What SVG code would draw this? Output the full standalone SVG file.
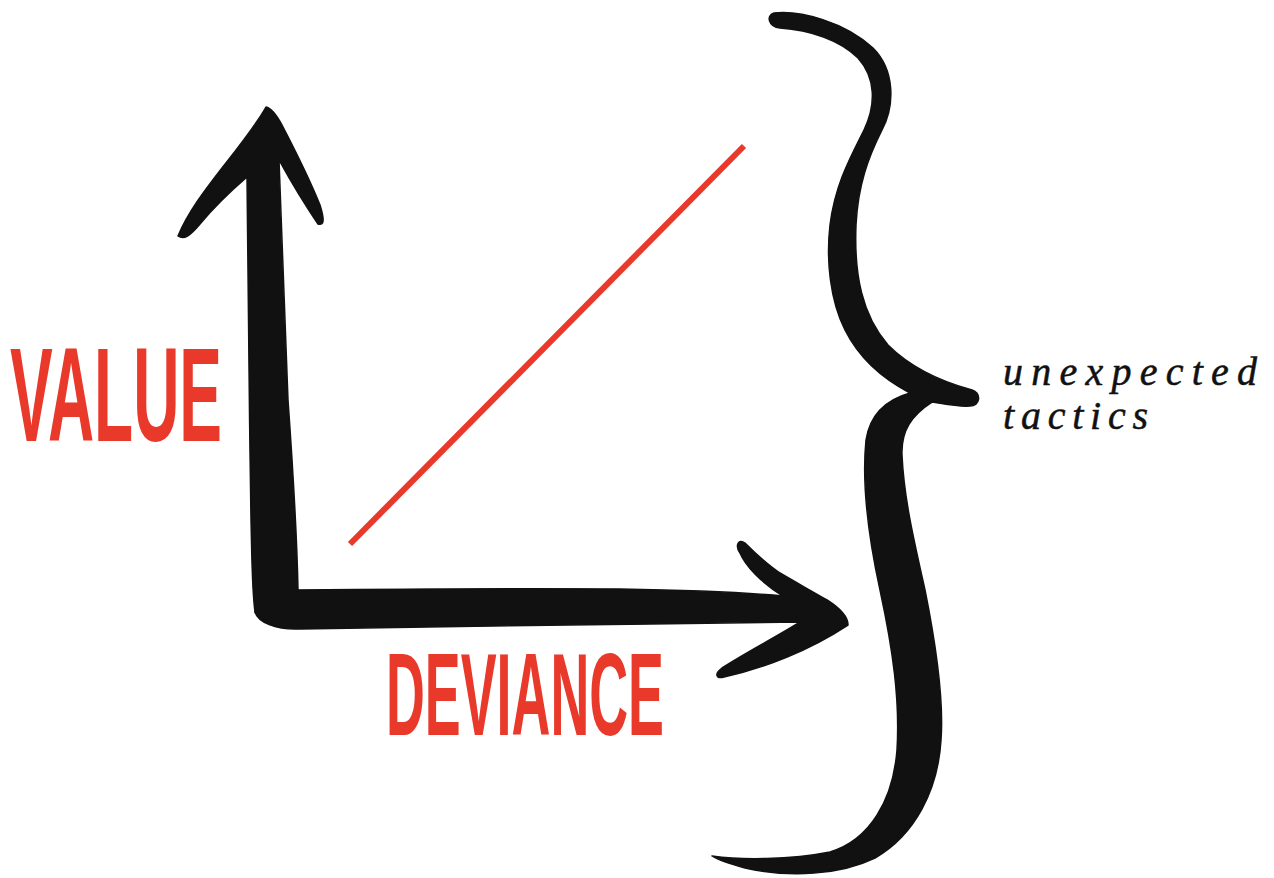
<svg xmlns="http://www.w3.org/2000/svg" width="1274" height="878" viewBox="0 0 1274 878">
<style>
.ink{fill:#111;stroke:#111;stroke-width:1.5;stroke-linejoin:round}
.red{font-family:"Liberation Sans",Arial,sans-serif;font-weight:bold;fill:#e8392a}
.it{font-family:"Liberation Serif","Times New Roman",serif;font-style:italic;font-size:40px;fill:#111;stroke:#111;stroke-width:0.5}
</style>
<rect width="1274" height="878" fill="#fff"/>
<g id="connectors">
<path id="value-axis" class="ink" d="M266,107 C256,125 240,145 222,168 C205,190 188,212 178,236 C184,240 190,236 200,224 C215,206 232,190 247,177 C248,260 249,400 251,520 C252,560 252,590 255,612 C265,622 285,618 298,590 C297,540 293,470 288,400 C284,300 281,220 279,160 C290,180 305,205 318,224 C325,226 324,218 320,205 C310,180 295,150 282,125 C276,114 271,108 266,107 Z"/>
<path id="deviance-axis" class="ink" d="M255,612 C258,622 275,630 300,629 C400,627 550,625 650,624 C720,623 770,622 800,622 C780,635 750,650 722,668 C714,674 716,679 724,677 C765,668 810,650 848,625 C848,615 838,607 827,600 C810,590 795,582 780,573 C765,563 752,550 745,543 C738,538 735,546 740,553 C745,565 760,582 783,596 C740,592 680,590 620,589 C520,588 400,589 296,590 Z"/>
<line id="trend" x1="350" y1="544" x2="744" y2="146" stroke="#e8392a" stroke-width="6"/>
<path id="brace" class="ink" d="M774,13 C800,10 845,22 873,48 C895,70 895,105 882,130 C868,158 858,185 856,225 C854,275 862,315 888,345 C915,372 950,384 972,390 C982,394 980,406 970,406 C958,407 945,404 932,402 C912,415 901,430 902,455 C904,500 915,545 925,590 C935,640 944,700 941,740 C938,790 915,835 875,858 C840,875 790,878 745,868 C730,864 718,860 712,856 C740,860 790,860 830,852 C870,840 893,800 897,750 C900,700 893,650 880,590 C868,535 862,480 866,440 C870,415 885,400 910,393 C885,380 860,360 845,330 C830,300 826,260 830,225 C835,185 850,158 864,130 C876,105 876,78 858,58 C840,40 810,30 780,28 C768,27 766,15 774,13 Z"/>
</g>
<g id="label-value">
<text class="red" x="10" y="441" font-size="134" textLength="212" lengthAdjust="spacingAndGlyphs">VALUE</text>
</g>
<g id="label-deviance">
<text class="red" x="386" y="735" font-size="116" textLength="278" lengthAdjust="spacingAndGlyphs">DEVIANCE</text>
</g>
<g id="label-tactics">
<text class="it" x="1003" y="385" textLength="254" lengthAdjust="spacing">unexpected</text>
<text class="it" x="1003" y="429" textLength="145" lengthAdjust="spacing">tactics</text>
</g>
</svg>
